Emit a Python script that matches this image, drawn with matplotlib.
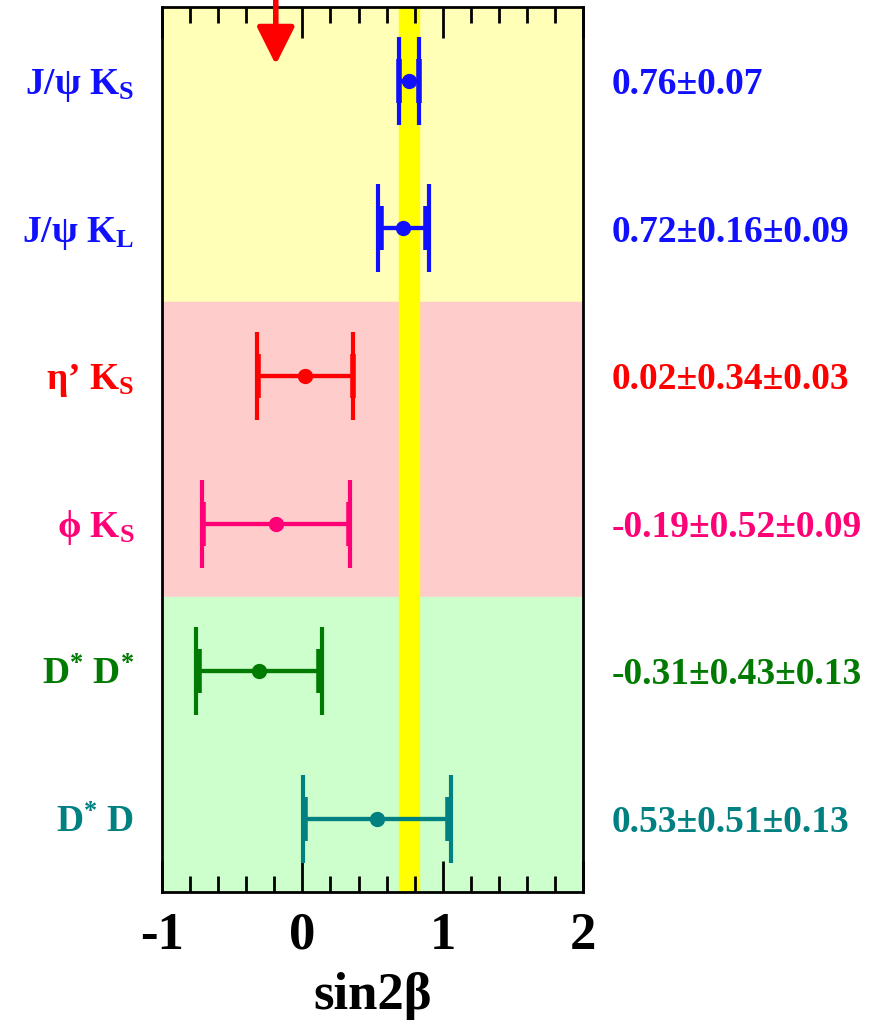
import matplotlib
matplotlib.use('Agg')
import matplotlib.pyplot as plt
from matplotlib.transforms import blended_transform_factory

plt.rcParams['font.family'] = ['Liberation Serif', 'DejaVu Serif']
plt.rcParams['font.weight'] = 'bold'
plt.rcParams['mathtext.fontset'] = 'custom'
plt.rcParams['mathtext.rm'] = 'Liberation Serif:bold'
plt.rcParams['mathtext.it'] = 'Liberation Serif:bold'
plt.rcParams['mathtext.bf'] = 'Liberation Serif:bold'

# measurements, top to bottom
modes = ['J/ψ K$_S$', 'J/ψ K$_L$', 'η’ K$_S$', 'ϕ K$_S$', 'D$^{*}$ D$^{*}$', 'D$^{*}$ D']
values = [0.76, 0.72, 0.02, -0.19, -0.31, 0.53]
stat = [0.07, 0.16, 0.34, 0.52, 0.43, 0.51]
syst = [0.0, 0.09, 0.03, 0.09, 0.13, 0.13]
results = ['0.76±0.07', '0.72±0.16±0.09', '0.02±0.34±0.03',
           '-0.19±0.52±0.09', '-0.31±0.43±0.13', '0.53±0.51±0.13']
colors = ['#1010ff', '#1010ff', '#ff0000', '#ff0077', '#007a00', '#008080']

# charmonium reference band and shading of the three groups
band_val, band_err = 0.76, 0.07
groups = [(4, 6, '#ffffb8'), (2, 4, '#ffcccc'), (0, 2, '#ccffcc')]
arrow_x = -0.19

fig = plt.figure(figsize=(8.86, 10.21), dpi=100)
ax = fig.add_axes([0.183, 0.126, 0.475, 0.867])

for lo, hi, c in groups:
    ax.axhspan(lo, hi, color=c, zorder=0)
ax.axvspan(band_val - band_err, band_val + band_err, color='#ffff00', zorder=1)

n = len(values)
trans = blended_transform_factory(ax.transAxes, ax.transData)
for i in range(n):
    y = n - 1 - i + 0.5
    tot = (stat[i] ** 2 + syst[i] ** 2) ** 0.5
    c = colors[i]
    # statistical part: short heavy caps
    ax.errorbar(values[i], y, xerr=stat[i], fmt='none', ecolor=c,
                elinewidth=3, capsize=16, capthick=4, zorder=3)
    # total error: tall thin caps with the central point
    ax.errorbar(values[i], y, xerr=tot, fmt='o', color=c, ms=10,
                elinewidth=3, capsize=32, capthick=3, zorder=4)
    ax.text(-0.066, y - 0.09, modes[i], transform=trans, ha='right',
            va='baseline', color=c, fontsize=27, fontweight='bold')
    ax.text(1.069, y - 0.09, results[i], transform=trans, ha='left',
            va='baseline', color=c, fontsize=27, fontweight='bold')

ax.annotate('', xy=(arrow_x, 5.61), xytext=(arrow_x, 6.06),
            arrowprops=dict(arrowstyle='-|>,head_width=1.15,head_length=2.3',
                            color='#ff0000', lw=4, shrinkA=0, shrinkB=0),
            annotation_clip=False, zorder=5)

ax.set_xlim(-1, 2)
ax.set_ylim(0, n)
ax.set_yticks([])
ax.set_xticks([-1, 0, 1, 2])
ax.set_xticks([x / 10 for x in range(-8, 20, 2) if x % 10 != 0], minor=True)
ax.tick_params(axis='x', which='both', direction='in', top=True, bottom=True,
               width=2, labelsize=38, pad=14)
ax.tick_params(axis='x', which='major', length=22)
ax.tick_params(axis='x', which='minor', length=11.5)
ax.set_xticklabels(['-1', '0', '1', '2'])
for lbl in ax.get_xticklabels():
    lbl.set_fontweight('bold')
for s in ax.spines.values():
    s.set_linewidth(2)
ax.set_xlabel('sin2β', fontsize=38, fontweight='bold', labelpad=9)

fig.savefig('out.png', dpi=100)
